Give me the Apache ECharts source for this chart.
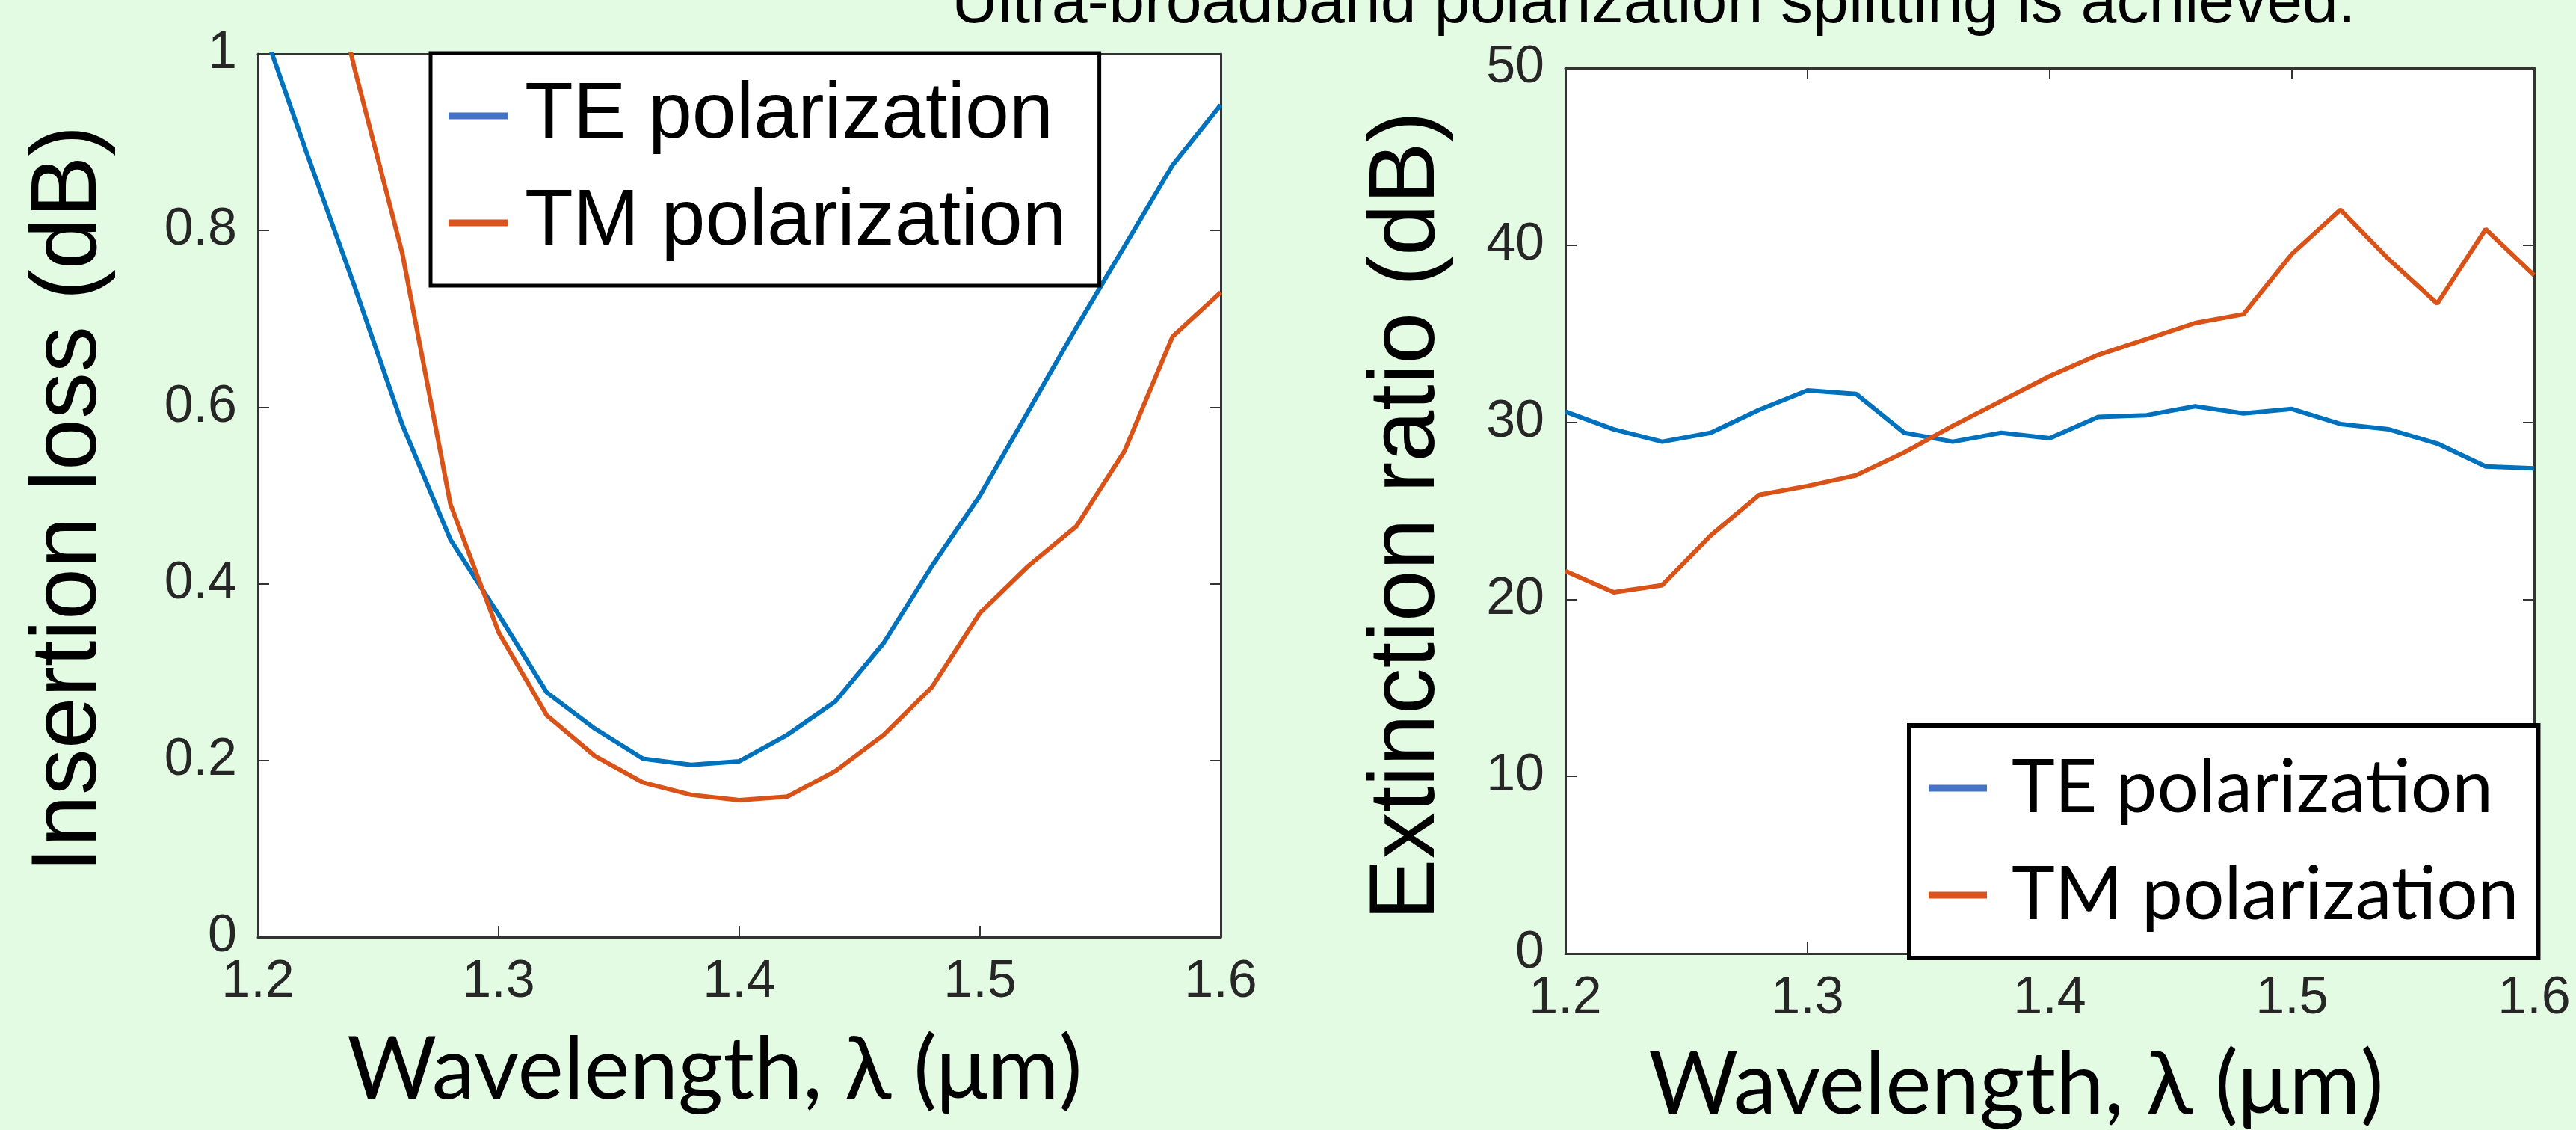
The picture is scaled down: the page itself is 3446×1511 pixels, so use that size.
<!DOCTYPE html>
<html>
<head>
<meta charset="utf-8">
<title>Polarization splitter</title>
<script src="https://cdn.jsdelivr.net/npm/echarts@6/dist/echarts.min.js"></script>
<style>
  html, body { margin: 0; padding: 0; background: #e3fbe2; }
  #chart { width: 3446px; height: 1511px; }
</style>
</head>
<body>
<div id="chart"></div>
<script>
// wavelength samples (um)
var wavelength = [1.20, 1.22, 1.24, 1.26, 1.28, 1.30, 1.32, 1.34, 1.36, 1.38, 1.40,
  1.42, 1.44, 1.46, 1.48, 1.50, 1.52, 1.54, 1.56, 1.58, 1.60]

// insertion loss (dB), left panel
var teInsertion = [1.046, 0.89, 0.738, 0.58, 0.45, 0.365, 0.277, 0.236, 0.202, 0.195, 0.199,
  0.229, 0.267, 0.333, 0.42, 0.50, 0.595, 0.69, 0.782, 0.874, 0.942]
var tmInsertion = [1.45, 1.22, 0.985, 0.774, 0.49, 0.345, 0.251, 0.205, 0.175, 0.161, 0.155,
  0.159, 0.188, 0.229, 0.283, 0.367, 0.42, 0.465, 0.55, 0.68, 0.73]

// extinction ratio (dB), right panel
var teExtinction = [30.6, 29.6, 28.9, 29.4, 30.7, 31.8, 31.6, 29.4, 28.9, 29.4, 29.1,
  30.3, 30.4, 30.9, 30.5, 30.75, 29.9, 29.6, 28.8, 27.5, 27.4]
var tmExtinction = [21.6, 20.4, 20.8, 23.6, 25.9, 26.4, 27.0, 28.3, 29.8, 31.2, 32.6,
  33.8, 34.7, 35.6, 36.1, 39.5, 42.0, 39.2, 36.7, 40.9, 38.3]

var seriesNames = ['TE polarization', 'TM polarization']
var lineColors = ['#0072bd', '#d95319']
var iconColors = ['#4472c4', '#d9531e']

var axisColor = '#333333'
var tickFont = 'Liberation Sans, Arial, sans-serif'
var calibriLike = 'Lato, Open Sans, sans-serif'

function pairs(ys) {
  return wavelength.map(function(w, i) { return [w, ys[i]] })
}

function xAxisFor(grid, pos) {
  return {
    gridIndex: grid,
    type: 'value',
    position: pos,
    min: 1.2,
    max: 1.6,
    interval: 0.1,
    axisLine: { onZero: false, lineStyle: { color: axisColor, width: 3 } },
    axisTick: { inside: true, length: 15, lineStyle: { color: axisColor, width: 2 } },
    axisLabel: {
      show: pos === 'bottom',
      margin: 26,
      color: '#262626',
      fontSize: 70,
      fontFamily: tickFont
    },
    splitLine: { show: false }
  }
}

function yAxisFor(grid, pos, max, step) {
  return {
    gridIndex: grid,
    type: 'value',
    position: pos,
    min: 0,
    max: max,
    interval: step,
    axisLine: { onZero: false, lineStyle: { color: axisColor, width: 3 } },
    axisTick: { inside: true, length: 15, lineStyle: { color: axisColor, width: 2 } },
    axisLabel: {
      show: pos === 'left',
      margin: 28,
      color: '#262626',
      fontSize: 70,
      fontFamily: tickFont
    },
    splitLine: { show: false }
  }
}

function lineSeries(name, xIdx, yIdx, ys, color) {
  return {
    name: name,
    type: 'line',
    xAxisIndex: xIdx,
    yAxisIndex: yIdx,
    data: pairs(ys),
    showSymbol: false,
    symbol: 'none',
    clip: true,
    lineStyle: { color: color, width: 6 },
    itemStyle: { color: color },
    animation: false
  }
}

function legendData() {
  return seriesNames.map(function(n, i) {
    return { name: n, itemStyle: { color: iconColors[i] } }
  })
}

var chart = echarts.init(document.getElementById('chart'), null, { renderer: 'canvas' })

chart.setOption({
  backgroundColor: '#e3fbe2',
  animation: false,
  grid: [
    { left: 345, top: 72, width: 1288, height: 1181, show: true, backgroundColor: '#ffffff', borderWidth: 0 },
    { left: 2094, top: 91, width: 1296, height: 1184, show: true, backgroundColor: '#ffffff', borderWidth: 0 }
  ],
  xAxis: [
    xAxisFor(0, 'bottom'),
    xAxisFor(0, 'top'),
    xAxisFor(1, 'bottom'),
    xAxisFor(1, 'top')
  ],
  yAxis: [
    yAxisFor(0, 'left', 1, 0.2),
    yAxisFor(0, 'right', 1, 0.2),
    yAxisFor(1, 'left', 50, 10),
    yAxisFor(1, 'right', 50, 10)
  ],
  legend: [
    {
      data: legendData(),
      orient: 'vertical',
      left: 576,
      top: 71,
      icon: 'rect',
      itemWidth: 79,
      itemHeight: 9,
      itemGap: 23,
      selectedMode: false,
      backgroundColor: '#ffffff',
      borderColor: '#000000',
      borderWidth: 5,
      padding: [24, 44, 24, 24],
      textStyle: {
        color: '#000000',
        fontSize: 106,
        fontFamily: tickFont,
        lineHeight: 120,
        padding: [0, 0, 0, 18]
      }
    },
    {
      data: legendData(),
      orient: 'vertical',
      left: 2554,
      top: 970,
      icon: 'rect',
      itemWidth: 78,
      itemHeight: 9,
      itemGap: 23,
      selectedMode: false,
      backgroundColor: '#ffffff',
      borderColor: '#000000',
      borderWidth: 6,
      padding: [24, 26, 24, 26],
      textStyle: {
        color: '#000000',
        fontSize: 98,
        fontFamily: calibriLike,
        lineHeight: 120,
        padding: [0, 0, 0, 28]
      }
    }
  ],
  series: [
    lineSeries(seriesNames[0], 0, 0, teInsertion, lineColors[0]),
    lineSeries(seriesNames[1], 0, 0, tmInsertion, lineColors[1]),
    lineSeries(seriesNames[0], 2, 2, teExtinction, lineColors[0]),
    lineSeries(seriesNames[1], 2, 2, tmExtinction, lineColors[1])
  ],
  graphic: [
    {
      type: 'text',
      left: 1273,
      top: -37,
      style: {
        text: 'Ultra-broadband polarization splitting is achieved.',
        fill: '#000000',
        font: '86px Liberation Sans, Arial, sans-serif'
      }
    },
    {
      type: 'text',
      x: 94,
      y: 667,
      rotation: Math.PI / 2,
      style: {
        text: 'Insertion loss (dB)',
        fill: '#000000',
        font: '124px Liberation Sans, Arial, sans-serif',
        align: 'center',
        verticalAlign: 'middle'
      }
    },
    {
      type: 'text',
      x: 1884,
      y: 690,
      rotation: Math.PI / 2,
      style: {
        text: 'Extinction ratio (dB)',
        fill: '#000000',
        font: '124px Liberation Sans, Arial, sans-serif',
        align: 'center',
        verticalAlign: 'middle'
      }
    },
    {
      type: 'text',
      x: 956,
      y: 1432,
      style: {
        text: 'Wavelength, λ (μm)',
        fill: '#000000',
        font: '116px ' + calibriLike,
        align: 'center',
        verticalAlign: 'middle'
      }
    },
    {
      type: 'text',
      x: 2697,
      y: 1452,
      style: {
        text: 'Wavelength, λ (μm)',
        fill: '#000000',
        font: '116px ' + calibriLike,
        align: 'center',
        verticalAlign: 'middle'
      }
    }
  ]
})
</script>
</body>
</html>
